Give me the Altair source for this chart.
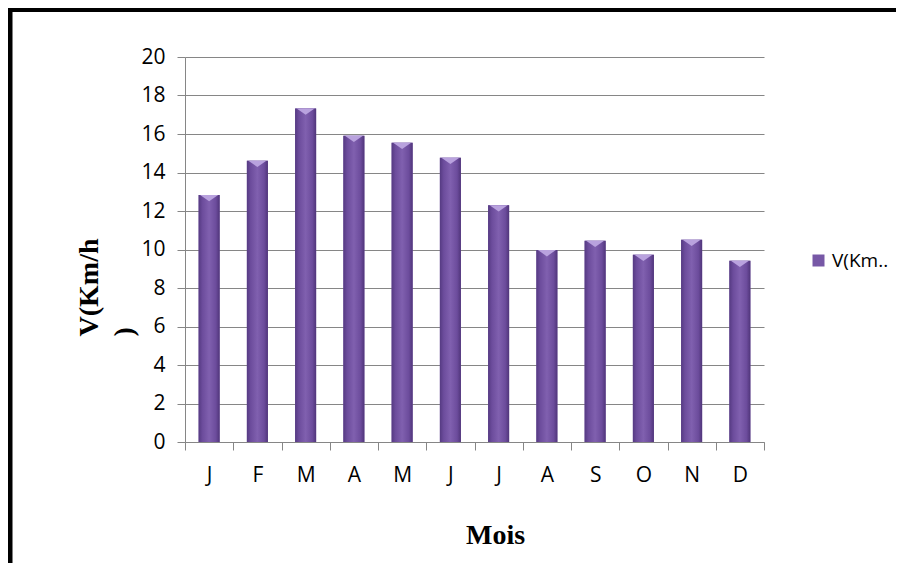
import altair as alt
import pandas as pd

mois = ["Janvier", "Février", "Mars", "Avril", "Mai", "Juin", "Juillet",
        "Août", "Septembre", "Octobre", "Novembre", "Décembre"]
lettres = ["J", "F", "M", "A", "M", "J", "J", "A", "S", "O", "N", "D"]
vitesse = [12.83, 14.61, 17.33, 15.91, 15.55, 14.77, 12.3, 9.97, 10.46, 9.73, 10.51, 9.42]
serie = "V(Km.."

df = pd.DataFrame({"mois": mois, "lettre": lettres, "v": vitesse, "serie": [serie] * len(mois)})

label_map = "{" + ",".join(f"'{m}':'{l}'" for m, l in zip(mois, lettres)) + "}"

W, H = 579, 385
PL, PT = 177, 49
PR, PB = 132, 121

x_enc = alt.X(
    "mois:N", sort=mois,
    scale=alt.Scale(paddingInner=0.0, paddingOuter=0.0),
    axis=alt.Axis(
        title="Mois", labelExpr=f"{label_map}[datum.value]", labelAngle=0,
        labelFont="Open Sans", labelFontSize=21, labelColor="black", labelPadding=14,
        domainColor="#868686", tickColor="#868686", tickSize=8, tickBand="extent",
        titleFont="Liberation Serif", titleFontSize=28, titleFontWeight="bold",
        titleColor="black", titleX=310, titleY=101, titleBaseline="alphabetic",
        titleAnchor="middle", titleAlign="center",
    ),
)
y_enc = alt.Y(
    "v:Q", scale=alt.Scale(domain=[0, 20], nice=False),
    axis=alt.Axis(
        title=["V(Km/h", ")"], values=list(range(0, 21, 2)), labelOverlap=False,
        labelFont="Open Sans", labelFontSize=21, labelColor="black", labelPadding=12,
        domainColor="#868686", tickColor="#868686", tickSize=8,
        gridColor="#868686", gridWidth=1.2,
        titleFont="Liberation Serif", titleFontSize=28, titleFontWeight="bold",
        titleColor="black", titleAngle=270, titleAlign="left", titleBaseline="alphabetic",
        titleX=-88, titleY=279, titleLineHeight=35,
    ),
)

base = alt.Chart(df)

bars_legend = base.mark_bar(size=21).encode(
    x=x_enc, y=y_enc,
    color=alt.Color(
        "serie:N", scale=alt.Scale(range=["#7758a6"]),
        legend=alt.Legend(
            title=None, orient="none", legendX=624, legendY=194,
            symbolType="square", symbolSize=144, symbolStrokeWidth=0,
            labelFont="Open Sans", labelFontSize=19, labelColor="black", labelOffset=4,
        ),
    ),
)

grad = alt.Gradient(
    gradient="linear", x1=0, x2=1, y1=0, y2=0,
    stops=[
        alt.GradientStop(color="#553a82", offset=0),
        alt.GradientStop(color="#6c4c9c", offset=0.18),
        alt.GradientStop(color="#8060af", offset=0.5),
        alt.GradientStop(color="#6c4c9c", offset=0.82),
        alt.GradientStop(color="#50357a", offset=1),
    ],
)
bars_shade = base.mark_bar(size=21, fill=grad).encode(x=x_enc, y=y_enc)

bevel = base.mark_point(
    shape="M-1,0L1,0L0,0.7Z", size=324, filled=True, fill="#b9a2de", opacity=1, strokeWidth=0,
).encode(x=x_enc, y=y_enc)

one = alt.Chart(pd.DataFrame({"a": [0]}))
top_border = one.mark_rule(color="black", strokeWidth=4).encode(
    x=alt.value(-PL), x2=alt.value(W + PR), y=alt.value(-47)
)
left_border = one.mark_rule(color="black", strokeWidth=5).encode(
    x=alt.value(-175), y=alt.value(-PT), y2=alt.value(H + PB)
)

chart = alt.layer(bars_legend, bars_shade, bevel, top_border, left_border).properties(
    width=W, height=H,
    padding={"left": PL, "top": PT, "right": PR, "bottom": PB},
    autosize=alt.AutoSizeParams(type="none"),
    background="white",
).configure_view(stroke=None)

chart.save("out.html", embed_options={"renderer": "svg", "actions": False})
